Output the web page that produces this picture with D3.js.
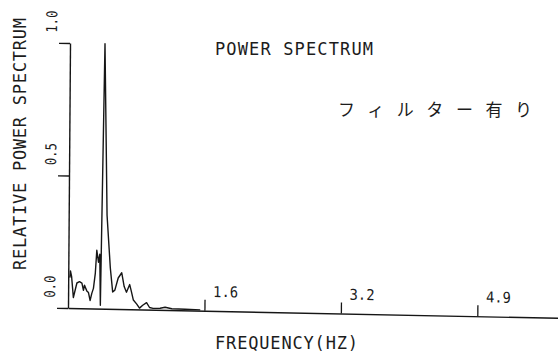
<!DOCTYPE html>
<html>
<head>
<meta charset="utf-8">
<script src="https://cdn.jsdelivr.net/npm/d3@7/dist/d3.min.js"></script>
<style>
  html, body { margin: 0; padding: 0; background: #fff; }
  svg { display: block; }
  .plot-text { font-family: "DejaVu Sans Mono", monospace; fill: #1c1c1c; }
  .jp-text { font-family: "Noto Sans CJK JP", sans-serif; fill: #1c1c1c; }
</style>
</head>
<body>
<svg id="chart" width="558" height="354"></svg>
<script>
// Relative power spectrum (filtered signal)
const freq = [0.020, 0.026, 0.040, 0.063, 0.104, 0.135, 0.164, 0.183, 0.195, 0.223,
              0.243, 0.263, 0.283, 0.302, 0.323, 0.339, 0.360, 0.375, 0.386, 0.418,
              0.458, 0.502, 0.532, 0.558, 0.597, 0.639, 0.669, 0.697, 0.735, 0.753,
              0.780, 0.821, 0.854, 0.892, 0.938, 0.974, 1.016, 1.100, 1.160, 1.240,
              1.400, 1.580];
const power = [0.115, 0.140, 0.120, 0.040, 0.095, 0.100, 0.095, 0.068, 0.087, 0.066,
               0.060, 0.030, 0.057, 0.076, 0.133, 0.220, 0.175, 0.205, 0.013, 1.000,
               0.354, 0.154, 0.064, 0.071, 0.117, 0.137, 0.085, 0.064, 0.093, 0.070,
               0.035, 0.020, 0.005, 0.016, 0.026, 0.008, 0.005, 0.006, 0.010, 0.005,
               0.004, 0.003];

const yTicks = [0, 0.5, 1.0];
const yTickLabels = ["0.0", "0.5", "1.0"];
const xTicks = [1.63, 3.26, 4.89];
const xTickLabels = ["1.6", "3.2", "4.9"];

const titleText = "POWER SPECTRUM";
const noteText = "フィルター有り";
const xTitle = "FREQUENCY(HZ)";
const yTitle = "RELATIVE POWER SPECTRUM";

const svg = d3.select("#chart");
const ink = "#161616";

const plotW = 490, plotH = 265;
const x = d3.scaleLinear().domain([0, 5.854]).range([0, plotW]);
const y = d3.scaleLinear().domain([0, 1]).range([0, -plotH]);

// plot frame sits slightly skewed on the sheet, as drawn by the pen plotter
const g = svg.append("g")
  .attr("transform", "matrix(1,0.02,-0.0076,1,68,308)");

// x axis: baseline with upward ticks
const xAxis = d3.axisBottom(x)
  .tickValues(xTicks)
  .tickSizeInner(-11)
  .tickSizeOuter(0)
  .tickFormat((d, i) => xTickLabels[i]);
const xg = g.append("g").call(xAxis);
xg.select(".domain").attr("stroke", ink).attr("stroke-width", 1.4);
xg.selectAll(".tick line").attr("stroke", ink).attr("stroke-width", 1.3);
xg.selectAll(".tick text")
  .attr("class", "plot-text")
  .attr("x", 8).attr("y", -14).attr("dy", null)
  .attr("text-anchor", "start")
  .attr("font-size", 15)
  .attr("textLength", 25).attr("lengthAdjust", "spacingAndGlyphs")
  .style("fill", "#1c1c1c");
xg.attr("font-family", null).attr("font-size", null);

// y axis with left ticks; labels rotated
const yAxis = d3.axisLeft(y)
  .tickValues(yTicks)
  .tickSizeInner(11)
  .tickSizeOuter(0)
  .tickFormat("");
const yg = g.append("g").call(yAxis);
yg.select(".domain").attr("stroke", ink).attr("stroke-width", 1.4);
yg.selectAll(".tick line").attr("stroke", ink).attr("stroke-width", 1.3);

g.append("g").selectAll("text")
  .data(yTicks)
  .join("text")
  .attr("class", "plot-text")
  .attr("font-size", 15)
  .attr("text-anchor", "middle")
  .attr("textLength", 22).attr("lengthAdjust", "spacingAndGlyphs")
  .attr("transform", d => `translate(-13,${y(d) - 21}) rotate(-90)`)
  .text((d, i) => yTickLabels[i]);

// spectrum trace
const line = d3.line()
  .x(i => x(freq[i]))
  .y(i => y(power[i]));
g.append("path")
  .attr("d", line(d3.range(freq.length)))
  .attr("fill", "none")
  .attr("stroke", ink)
  .attr("stroke-width", 1.4)
  .attr("stroke-linejoin", "round");

// titles
svg.append("text")
  .attr("class", "plot-text")
  .attr("x", 215).attr("y", 55)
  .attr("font-size", 17)
  .attr("textLength", 158).attr("lengthAdjust", "spacing")
  .text(titleText);

svg.append("text")
  .attr("class", "jp-text")
  .attr("x", 338).attr("y", 116)
  .attr("font-size", 17)
  .attr("textLength", 194).attr("lengthAdjust", "spacing")
  .text(noteText);

svg.append("text")
  .attr("class", "plot-text")
  .attr("x", 215).attr("y", 349)
  .attr("font-size", 17)
  .attr("textLength", 143).attr("lengthAdjust", "spacing")
  .text(xTitle);

svg.append("text")
  .attr("class", "plot-text")
  .attr("font-size", 17)
  .attr("text-anchor", "middle")
  .attr("textLength", 252).attr("lengthAdjust", "spacing")
  .attr("transform", "translate(26,144) rotate(-90)")
  .text(yTitle);
</script>
</body>
</html>
